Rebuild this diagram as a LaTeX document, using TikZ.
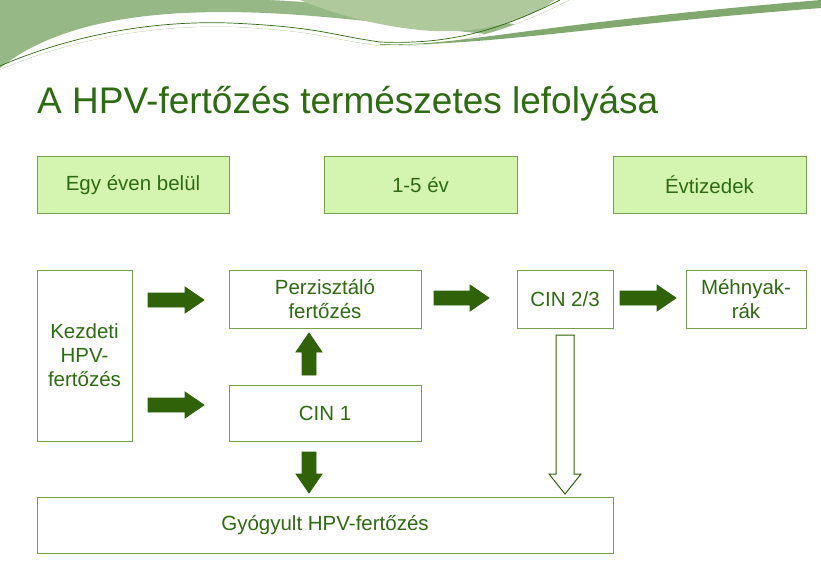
\documentclass[tikz,border=0pt]{standalone}
\usepackage{fontspec}
\setmainfont{Liberation Sans}
\definecolor{tg}{HTML}{2E6B12}
\definecolor{bx}{HTML}{77A04E}
\definecolor{lf}{HTML}{D3F5B0}
\definecolor{ar}{HTML}{2F6209}
\definecolor{w1}{HTML}{96B886}
\definecolor{w2}{HTML}{AFC89C}
\newcommand\blkR[3]{\filldraw[blk] (#1,#3-7) -- (#2-19,#3-7) -- (#2-19,#3-13) -- (#2,#3) -- (#2-19,#3+13) -- (#2-19,#3+7) -- (#1,#3+7) -- cycle;}
\newcommand\blkV[4]{\filldraw[#4] (#1-7,#2) -- (#1-7,#3-19*#3/#3+0) -- cycle;}
\begin{document}
\begin{tikzpicture}[x=1pt,y=-1pt,
 box/.style={draw=bx,line width=1pt,text=tg,font=\fontsize{20.5}{24}\selectfont,align=center,inner sep=0pt},
 hdr/.style={box,fill=lf},
 blk/.style={draw=ar,fill=ar,line width=0.8pt}]
\useasboundingbox (0,0) rectangle (821,580);
% banner
\fill[w1] (0,0) -- (0,68) .. controls (60,20) and (160,5) .. (300,15) .. controls (430,25) and (530,45) .. (640,40) .. controls (720,35) and (790,15) .. (821,0) -- cycle;
\fill[white] (270,0) .. controls (380,5) and (490,25) .. (640,35) .. controls (700,38) and (760,20) .. (821,0) -- cycle;
\fill[w2] (300,0) .. controls (330,12) and (370,25) .. (420,30) .. controls (470,35) and (520,25) .. (555,0) -- cycle;
\draw[tg,line width=0.7pt] (0,66) .. controls (60,40) and (140,20) .. (230,23) .. controls (320,27) and (330,35) .. (380,42) .. controls (450,45) and (500,30) .. (560,0);
\draw[w2,line width=0.7pt] (0,70) .. controls (60,44) and (140,25) .. (230,27) .. controls (320,31) and (330,40) .. (380,46) .. controls (460,48) and (510,30) .. (570,0);
\fill[white] (0,70) .. controls (60,44) and (140,25) .. (230,27) .. controls (320,31) and (330,40) .. (380,46) .. controls (460,48) and (510,30) .. (570,0) -- (821,0) -- (821,580) -- (0,580) -- cycle;
\fill[w1!80!tg] (380,44) .. controls (460,47) and (520,25) .. (821,0) -- (821,8) .. controls (600,25) and (500,45) .. (380,45) -- cycle;
% title
\node[anchor=base west,text=tg,font=\fontsize{37}{42}\selectfont,inner sep=0pt] (title) at (37,114) {A HPV-fertőzés természetes lefolyása};
% headers
\node[hdr,minimum width=192pt,minimum height=56pt] (h1) at (133,185) {Egy éven belül};
\node[hdr,minimum width=193pt,minimum height=56pt] (h2) at (420.5,185) {1-5 év};
\node[hdr,minimum width=193pt,minimum height=56pt] (h3) at (709.5,185) {Évtizedek};
% boxes
\node[box,minimum width=95pt,minimum height=171pt] (k) at (84.5,355.5) {Kezdeti\\HPV-\\fertőzés};
\node[box,minimum width=192pt,minimum height=58pt] (p) at (325,299) {Perzisztáló\\fertőzés};
\node[box,minimum width=192pt,minimum height=56pt] (c1) at (325,413) {CIN 1};
\node[box,minimum width=96pt,minimum height=58pt] (c2) at (565,299) {CIN 2/3};
\node[box,minimum width=120pt,minimum height=58pt] (m) at (746,299) {Méhnyak-\\rák};
\node[box,minimum width=576pt,minimum height=56pt] (g) at (325,525) {Gyógyult  HPV-fertőzés};
% block arrows
\blkR{148}{204}{300}
\blkR{148}{204}{405}
\blkR{434}{489}{298}
\blkR{620}{676}{298}
% up arrow
\filldraw[blk] (302,375) -- (302,352) -- (296,352) -- (309,333) -- (322,352) -- (316,352) -- (316,375) -- cycle;
% down arrow
\filldraw[blk] (302,452) -- (302,474) -- (296,474) -- (309,493) -- (322,474) -- (316,474) -- (316,452) -- cycle;
% hollow down arrow
\draw[ar,fill=white,line width=1pt] (556,335) -- (556,474) -- (549,474) -- (565,494) -- (581,474) -- (574,474) -- (574,335) -- cycle;
\end{tikzpicture}
\end{document}
